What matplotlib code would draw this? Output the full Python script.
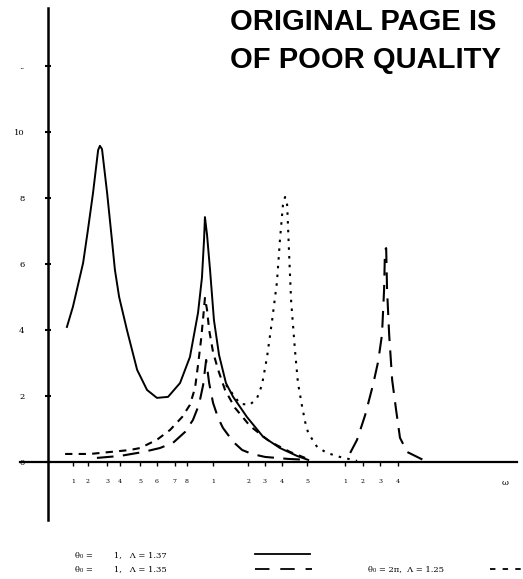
import matplotlib
matplotlib.use("Agg")
import matplotlib.pyplot as plt
from matplotlib.lines import Line2D

# solid curve (two resonances)
solid_x = [0.63, 0.83, 1.17, 1.33, 1.50, 1.67, 1.73, 1.80, 1.97, 2.13, 2.23, 2.37,
           2.63, 2.97, 3.30, 3.63, 4.00, 4.40, 4.73, 5.00, 5.13, 5.20, 5.23, 5.30,
           5.40, 5.53, 5.70, 5.93, 6.17, 6.63, 7.17, 7.73, 8.30, 8.67]
solid_y = [4.09, 4.70, 6.03, 7.03, 8.15, 9.45, 9.58, 9.48, 8.15, 6.73, 5.82, 5.00,
           4.00, 2.79, 2.18, 1.94, 1.97, 2.39, 3.18, 4.52, 5.58, 6.73, 7.42, 6.88,
           5.82, 4.30, 3.24, 2.39, 1.97, 1.36, 0.76, 0.42, 0.18, 0.06]

# short dashed curve
short_x = [0.57, 1.40, 2.07, 2.73, 3.07, 3.63, 4.07, 4.47, 4.73, 4.90, 5.00, 5.10,
           5.17, 5.23, 5.30, 5.37, 5.50, 5.67, 5.90, 6.23, 6.73, 7.40, 8.07, 8.57]
short_y = [0.24, 0.24, 0.30, 0.36, 0.42, 0.67, 0.97, 1.36, 1.73, 2.24, 2.94, 3.70,
           4.36, 4.97, 4.61, 4.00, 3.33, 2.79, 2.18, 1.64, 1.09, 0.61, 0.30, 0.12]

# long dashed curve, first resonance
long1_x = [1.63, 2.40, 3.17, 3.73, 4.17, 4.57, 4.83, 5.03, 5.17, 5.27, 5.37, 5.50,
           5.67, 5.83, 6.17, 6.47, 6.80, 7.23, 8.00, 8.67]
long1_y = [0.12, 0.18, 0.30, 0.42, 0.58, 0.91, 1.27, 1.73, 2.33, 3.09, 2.39, 1.79,
           1.33, 1.03, 0.61, 0.36, 0.24, 0.15, 0.09, 0.06]

# long dashed curve, second resonance
long2_x = [10.07, 10.30, 10.57, 10.83, 11.00, 11.13, 11.20, 11.23, 11.27, 11.30,
           11.37, 11.47, 11.60, 11.73, 11.97, 12.57]
long2_y = [0.27, 0.67, 1.42, 2.33, 3.03, 3.85, 5.21, 6.42, 6.48, 5.21,
           3.85, 2.48, 1.58, 0.73, 0.30, 0.03]

# dotted curve
dot_x = [5.93, 6.40, 6.73, 6.97, 7.13, 7.30, 7.47, 7.63, 7.73, 7.83, 7.90, 7.97,
         8.03, 8.10, 8.23, 8.33, 8.47, 8.57, 8.67, 8.97, 9.30, 9.73, 10.30]
dot_y = [2.33, 1.76, 1.73, 1.94, 2.33, 3.18, 4.30, 5.45, 6.73, 7.79, 8.03, 7.79,
         6.42, 4.91, 3.39, 2.39, 1.67, 1.21, 0.88, 0.45, 0.27, 0.15, 0.03]

y_ticks = [0, 2, 4, 6, 8, 10, 12]
y_labels = ["0", "2", "4", "6", "8", "10", ".."]
x_ticks = [0.83, 1.33, 1.97, 2.40, 3.07, 3.63, 4.23, 4.63, 5.50, 6.67, 7.23,
           7.80, 8.63, 9.90, 10.50, 11.07, 11.67]
x_labels = ["1", "2", "3", "4", "5", "6", "7", "8", "1", "2", "3", "4", "5",
            "1", "2", "3", "4"]

W, H = 523, 579


def fx(px):
    return px / W


def fy(py):
    return 1 - py / H


fig = plt.figure(figsize=(W / 100, H / 100), dpi=100)
ax = fig.add_axes([0, 0, 1, 1])
ax.patch.set_visible(False)
ax.set_xlim(-1.6, 15.83)
ax.set_ylim(-3.55, 14.0)

ax.plot(solid_x, solid_y, color="black", lw=1.4, solid_joinstyle="round")
ax.plot(short_x, short_y, color="black", lw=1.5, dashes=(3.5, 3))
ax.plot(long1_x, long1_y, color="black", lw=1.5, dashes=(8, 4.5))
ax.plot(long2_x, long2_y, color="black", lw=1.5, dashes=(8, 4.5))
ax.plot(dot_x, dot_y, color="black", lw=1.5, dashes=(1.2, 3))

for s in ["top", "right"]:
    ax.spines[s].set_visible(False)
ax.spines["left"].set_position(("data", 0))
ax.spines["bottom"].set_position(("data", 0))
ax.spines["left"].set_bounds(-1.76, 13.76)
ax.spines["bottom"].set_bounds(-0.93, 15.63)
ax.spines["left"].set_linewidth(1.8)
ax.spines["bottom"].set_linewidth(1.6)

ax.set_yticks(y_ticks)
ax.set_yticklabels(y_labels, family="DejaVu Serif", fontsize=6)
ax.tick_params(axis="y", direction="inout", length=4, width=1.5, pad=15)
ax.set_xticks(x_ticks)
ax.set_xticklabels(x_labels, family="DejaVu Serif", fontsize=4.5)
ax.tick_params(axis="x", direction="out", length=3, width=1, pad=9)

# stamp at the top
fig.text(fx(230), fy(22), "ORIGINAL PAGE IS", family="Liberation Sans",
         fontsize=21, fontweight="bold", ha="left", va="center")
fig.text(fx(230), fy(60), "OF POOR QUALITY", family="Liberation Sans",
         fontsize=21, fontweight="bold", ha="left", va="center")

# axis end label
fig.text(fx(505), fy(483), "ω", family="DejaVu Serif", fontsize=6,
         ha="center", va="center")

# legend at the bottom
fig.text(fx(75), fy(555), "θ₀ =        1,   Λ = 1.37", family="DejaVu Serif",
         fontsize=6, ha="left", va="center")
fig.text(fx(75), fy(569), "θ₀ =        1,   Λ = 1.35", family="DejaVu Serif",
         fontsize=6, ha="left", va="center")
fig.text(fx(368), fy(569), "θ₀ = 2π,  Λ = 1.25", family="DejaVu Serif",
         fontsize=6, ha="left", va="center")
fig.add_artist(Line2D([fx(255), fx(310)], [fy(554), fy(554)], color="black", lw=1.3))
fig.add_artist(Line2D([fx(255), fx(312)], [fy(569), fy(569)], color="black",
                      lw=1.3, dashes=(8, 6)))
fig.add_artist(Line2D([fx(490), fx(523)], [fy(569), fy(569)], color="black",
                      lw=1.3, dashes=(3, 4)))

fig.savefig("out.png", dpi=100)
